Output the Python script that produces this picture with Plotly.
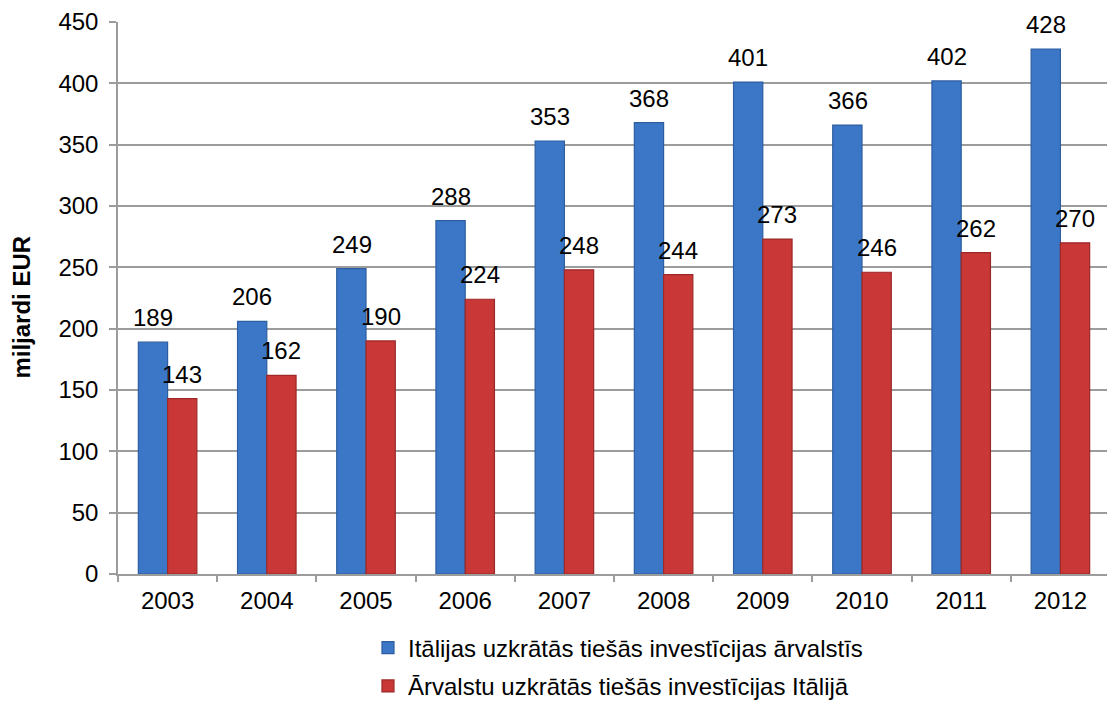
import plotly.graph_objects as go

years = ["2003", "2004", "2005", "2006", "2007", "2008", "2009", "2010", "2011", "2012"]
outward = [189, 206, 249, 288, 353, 368, 401, 366, 402, 428]
inward = [143, 162, 190, 224, 248, 244, 273, 246, 262, 270]
name_out = "Itālijas uzkrātās tiešās investīcijas ārvalstīs"
name_in = "Ārvalstu uzkrātās tiešās investīcijas Itālijā"
y_ticks = [0, 50, 100, 150, 200, 250, 300, 350, 400, 450]
y_title = "miljardi EUR"

FONT = "Liberation Sans, Arial, sans-serif"

fig = go.Figure()
fig.add_trace(go.Bar(x=years, y=outward, name=name_out, legendgroup="a",
                     marker=dict(color="#3c77c7", line=dict(color="#2c5d9f", width=1.2))))
fig.add_trace(go.Bar(x=years, y=inward, name=name_in, legendgroup="b",
                     marker=dict(color="#c93737", line=dict(color="#9c2828", width=1.2))))

ann = []
for i, v in enumerate(outward):
    ann.append(dict(x=i, y=v, text=str(v), xref="x", yref="y", showarrow=False,
                    xshift=-14.5, yshift=9, yanchor="bottom",
                    font=dict(size=24, color="#000000", family=FONT)))
for i, v in enumerate(inward):
    ann.append(dict(x=i, y=v, text=str(v), xref="x", yref="y", showarrow=False,
                    xshift=14.5, yshift=9, yanchor="bottom",
                    font=dict(size=24, color="#000000", family=FONT)))
ann.append(dict(x=-0.097, y=0.484, xref="paper", yref="paper", text="<b>" + y_title + "</b>",
                textangle=-90, showarrow=False, xanchor="center", yanchor="middle",
                font=dict(size=24, color="#000000", family=FONT)))

fig.update_layout(
    width=1115, height=716,
    margin=dict(l=110, r=13, t=14, b=150),
    paper_bgcolor="white", plot_bgcolor="white",
    barmode="group", bargap=0.41, bargroupgap=0,
    font=dict(family=FONT, size=24, color="#000000"),
    annotations=ann,
    showlegend=True,
    legend=dict(orientation="v", x=0.252, xanchor="left", y=-0.0935, yanchor="top",
                font=dict(size=24, family=FONT, color="#000000"),
                tracegroupgap=4, itemwidth=30),
    yaxis=dict(range=[0, 450], tickvals=y_ticks, showgrid=True, gridcolor="#9c9c9c",
               gridwidth=1.5, showline=True, linecolor="#9c9c9c", linewidth=1.5,
               ticks="outside", ticklen=7, tickcolor="#9c9c9c", tickwidth=1.5,
               zeroline=False, automargin=False, ticklabelstandoff=6,
               tickfont=dict(size=24, family=FONT)),
    xaxis=dict(type="category", range=[-0.5, len(years) - 0.5], showline=True,
               linecolor="#9c9c9c", linewidth=1.5, ticks="outside",
               tickson="boundaries", ticklen=6, tickcolor="#9c9c9c", tickwidth=1.5,
               automargin=False, ticklabelstandoff=4, tickfont=dict(size=24, family=FONT)),
)

fig.write_html("out.html")
